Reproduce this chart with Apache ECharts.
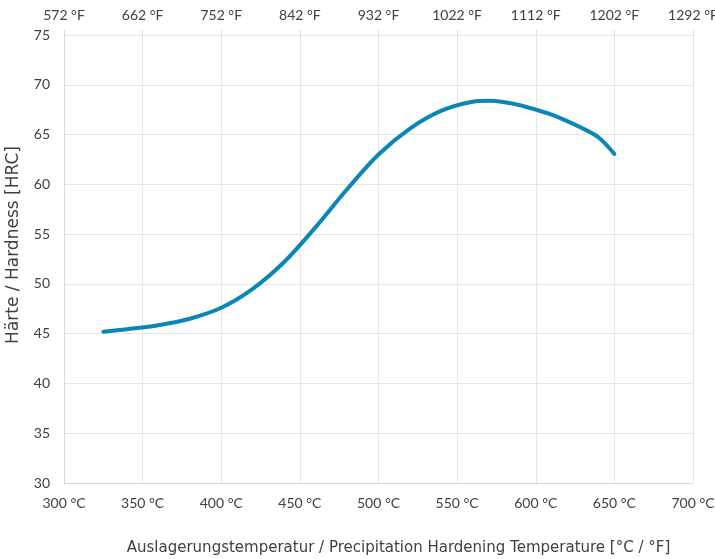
<!DOCTYPE html>
<html><head><meta charset="utf-8">
<script src="https://cdn.jsdelivr.net/npm/echarts@6/dist/echarts.min.js"></script>
<style>html,body{margin:0;padding:0;background:#fff}#c{width:715px;height:559px}</style>
</head><body><div id="c"></div>
<script>
// Data
const temperaturesC = [325, 340, 360, 380, 400, 420, 440, 460, 480, 500, 520, 540, 560, 570, 580, 590, 600, 610, 620, 630, 640, 650];
const hardnessHRC   = [45.2, 45.45, 45.85, 46.5, 47.6, 49.5, 52.2, 55.7, 59.5, 63.0, 65.6, 67.4, 68.3, 68.4, 68.25, 67.95, 67.5, 67.0, 66.35, 65.6, 64.7, 63.05];
const celsiusTicks    = ['300 °C','350 °C','400 °C','450 °C','500 °C','550 °C','600 °C','650 °C','700 °C'];
const fahrenheitTicks = ['572 °F','662 °F','752 °F','842 °F','932 °F','1022 °F','1112 °F','1202 °F','1292 °F'];
const xMin = 300, xMax = 700, xStep = 50;
const yMin = 30, yMax = 75, yStep = 5;

const font = 'Lato';
const nameFont = 'DejaVu Sans';
const txt = '#404040';
const chart = echarts.init(document.getElementById('c'));
const idx = v => Math.round((v - xMin) / xStep);
chart.setOption({
  animation: false,
  grid: { left: 64, right: 22, top: 35, bottom: 76, containLabel: false, outerBoundsMode: 'none' },
  xAxis: [{
    type: 'value', min: xMin, max: xMax, interval: xStep, position: 'bottom',
    name: 'Auslagerungstemperatur / Precipitation Hardening Temperature [°C / °F]',
    nameLocation: 'middle', nameGap: 58,
    nameTextStyle: { fontFamily: nameFont, fontSize: 15, color: txt, padding: [0, 0, 0, 40] },
    axisLine: { lineStyle: { color: '#d9d9d9' } },
    axisTick: { show: false },
    axisLabel: { fontFamily: font, fontSize: 14, color: txt, margin: 13, formatter: v => celsiusTicks[idx(v)] },
    splitLine: { lineStyle: { color: '#e6e6e6' } }
  }, {
    type: 'value', min: xMin, max: xMax, interval: xStep, position: 'top',
    axisLine: { show: false },
    axisTick: { show: true, length: 5, lineStyle: { color: '#d9d9d9' } },
    axisLabel: { fontFamily: font, fontSize: 14, color: txt, margin: 13, formatter: v => fahrenheitTicks[idx(v)] },
    splitLine: { show: false }
  }],
  yAxis: {
    type: 'value', min: yMin, max: yMax, interval: yStep,
    name: 'Härte / Hardness [HRC]', nameLocation: 'middle', nameGap: 42,
    nameTextStyle: { fontFamily: nameFont, fontSize: 17, color: txt, padding: [0, 0, 0, 28] },
    axisLine: { show: true, lineStyle: { color: '#d9d9d9' } },
    axisTick: { show: false },
    axisLabel: { fontFamily: font, fontSize: 14, color: txt, margin: 14 },
    splitLine: { lineStyle: { color: '#e6e6e6' } }
  },
  series: [{
    type: 'line', xAxisIndex: 0, smooth: 0.35, smoothConstraint: false, symbol: 'none',
    data: temperaturesC.map((t, i) => [t, hardnessHRC[i]]),
    lineStyle: { color: '#0a87b7', width: 4, cap: 'round' }
  }]
});
</script></body></html>
